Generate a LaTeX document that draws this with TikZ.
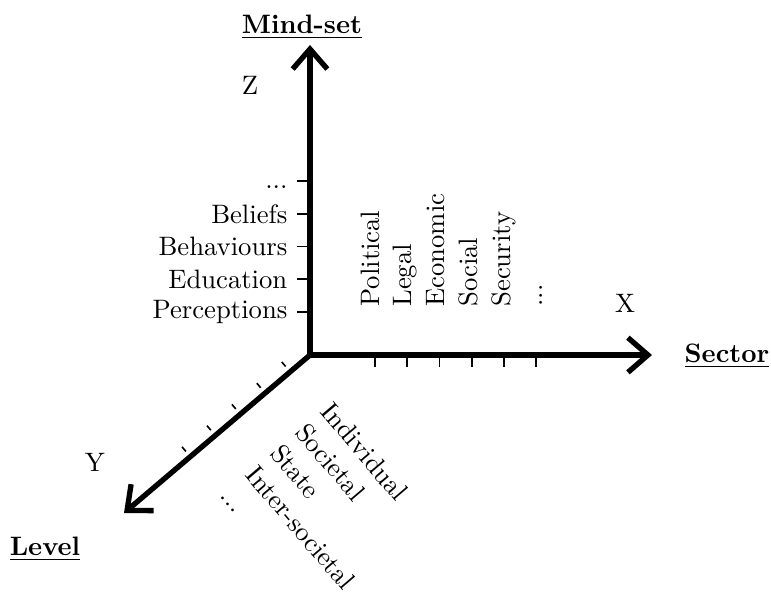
\documentclass[tikz,border=0pt]{standalone}
\usetikzlibrary{arrows.meta}
\begin{document}
\begin{tikzpicture}[scale=0.659,
    axis/.style={line width=2pt,-{Straight Barb[length=7.5pt,width=13pt,line width=2pt]}},
    tick/.style={line width=0.6pt},
    xlab/.style={rotate=90,anchor=base west},
    ylab/.style={rotate=-49.6,anchor=base west},
    title/.style={font=\bfseries}]
    \useasboundingbox (-6.2,-4.76) rectangle (9.22,7.1);
    % axes
    \coordinate (O) at (0,0);
    \coordinate (ztip) at (0,6.2);
    \coordinate (xtip) at (6.84,0);
    \coordinate (ytip) at (-3.72,-3.16);
    \draw [axis] (O) -- (ztip);
    \draw [axis] (O) -- (xtip);
    \draw [axis] (O) -- (ytip);
    \node [title] (mindset) at (-0.16,6.56) {\underline{Mind-set}};
    \node [title] (sector) at (8.34,-0.02) {\underline{Sector}};
    \node [title] (level) at (-5.3,-3.88) {\underline{Level}};
    \node (zname) at (-1.2,5.4) {Z};
    \node (xname) at (6.3,1.04) {X};
    \node (yname) at (-4.3,-2.14) {Y};
    % mind-set
    \draw [tick] (-0.26,0.86) node [left] (perc) {Perceptions} -- (0,0.86);
    \draw [tick] (-0.26,1.515) node [left] (edu) {Education} -- (0,1.515);
    \draw [tick] (-0.26,2.17) node [left] (behav) {Behaviours} -- (0,2.17);
    \draw [tick] (-0.26,2.825) node [left] (belief) {Beliefs} -- (0,2.825);
    \draw [tick] (-0.26,3.48) -- (0,3.48);
    \node [anchor=base east] (zdots) at (-0.26,3.34) {...};
    % sector
    \draw [tick] (1.3,0) -- (1.3,-0.24);
    \draw [tick] (1.945,0) -- (1.945,-0.24);
    \draw [tick] (2.59,0) -- (2.59,-0.24);
    \draw [tick] (3.235,0) -- (3.235,-0.24);
    \draw [tick] (3.88,0) -- (3.88,-0.24);
    \draw [tick] (4.525,0) -- (4.525,-0.24);
    \node [xlab] (pol) at (1.38,0.78) {Political};
    \node [xlab] (legal) at (2.035,0.78) {Legal};
    \node [xlab] (econ) at (2.69,0.78) {Economic};
    \node [xlab] (social) at (3.345,0.78) {Social};
    \node [xlab] (secur) at (4.0,0.78) {Security};
    \node [xlab] (xdots) at (4.655,0.78) {...};
    % level
    \begin{scope}[rotate=220.4]
        \draw [tick] (0.52,-0.14) -- (0.52,-0.26);
        \draw [tick] (1.175,-0.14) -- (1.175,-0.26);
        \draw [tick] (1.83,-0.14) -- (1.83,-0.26);
        \draw [tick] (2.485,-0.14) -- (2.485,-0.26);
        \draw [tick] (3.14,-0.14) -- (3.14,-0.26);
        \node [ylab] (indiv) at (0.6,0.8) {Individual};
        \node [ylab] (societal) at (1.255,0.8) {Societal};
        \node [ylab] (state) at (1.91,0.8) {State};
        \node [ylab] (inter) at (2.565,0.8) {Inter-societal};
        \node [ylab] (ydots) at (3.22,0.8) {...};
    \end{scope}
\end{tikzpicture}
\end{document}
